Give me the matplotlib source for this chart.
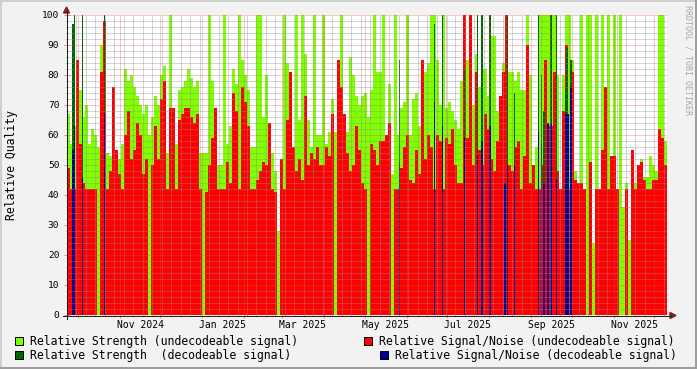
import numpy as np
import pandas as pd
import matplotlib
matplotlib.use('Agg')
import matplotlib.pyplot as plt
import matplotlib.dates as mdates
from matplotlib.lines import Line2D
from matplotlib.patches import Rectangle, Polygon

plt.rcParams['font.family'] = ['DejaVu Sans Mono']

W, H = 697, 369

# undecodeable: one sample every 3192 minutes (~2.2 days), Sep 2024 .. Dec 2025
start = pd.Timestamp('2024-09-23')
end = start + pd.Timedelta(days=443.3)
times = pd.date_range(start, periods=200, freq='3192min')

strength_undec = [
    67, 57, 63, 80, 75, 66, 70, 57, 62, 60, 56, 90, 90, 54, 53, 52, 50, 52, 57, 82,
    78, 80, 76, 73, 70, 67, 70, 60, 66, 73, 70, 80, 83, 54, 100, 59, 57, 75, 76, 78,
    82, 79, 76, 78, 54, 54, 54, 100, 78, 67, 50, 50, 100, 57, 63, 82, 77, 100, 85, 80,
    75, 56, 56, 100, 100, 66, 80, 57, 54, 48, 28, 50, 100, 84, 58, 50, 100, 65, 100, 87,
    65, 56, 100, 60, 60, 100, 57, 61, 72, 61, 78, 100, 60, 61, 86, 80, 73, 70, 73, 74,
    66, 75, 100, 81, 81, 100, 54, 77, 47, 100, 60, 69, 71, 100, 60, 72, 74, 63, 52, 81,
    84, 100, 100, 85, 70, 100, 69, 71, 68, 65, 62, 78, 87, 85, 63, 70, 87, 76, 82, 82,
    73, 93, 93, 68, 65, 84, 100, 81, 81, 78, 81, 75, 75, 100, 80, 49, 56, 100, 100, 100,
    100, 100, 100, 80, 42, 80, 100, 100, 85, 48, 42, 100, 30, 100, 100, 24, 100, 42, 100, 62,
    100, 42, 100, 42, 100, 36, 44, 25, 42, 44, 48, 52, 46, 46, 53, 50, 48, 100, 100, 58,
]
snr_undec = [
    49, 42, 42, 85, 57, 44, 42, 42, 42, 42, 0, 81, 98, 42, 48, 76, 55, 47, 42, 60,
    68, 52, 55, 64, 60, 47, 52, 0, 50, 63, 52, 72, 78, 42, 69, 69, 42, 65, 67, 69,
    69, 66, 64, 67, 42, 0, 41, 50, 59, 69, 42, 42, 42, 51, 44, 74, 68, 42, 76, 71,
    63, 42, 42, 45, 48, 51, 50, 64, 42, 41, 0, 52, 42, 65, 81, 56, 48, 52, 45, 73,
    50, 54, 52, 56, 50, 50, 56, 53, 67, 0, 85, 76, 67, 54, 48, 50, 63, 55, 44, 42,
    0, 57, 55, 50, 58, 58, 60, 64, 0, 42, 42, 49, 56, 60, 45, 44, 55, 47, 85, 52,
    60, 56, 42, 60, 58, 42, 59, 57, 62, 50, 44, 44, 100, 59, 100, 50, 81, 55, 50, 67,
    62, 52, 48, 58, 73, 81, 100, 50, 48, 56, 58, 42, 53, 90, 44, 50, 42, 42, 50, 85,
    63, 63, 81, 48, 42, 68, 90, 42, 81, 45, 44, 44, 42, 0, 51, 0, 42, 42, 55, 76,
    42, 53, 53, 42, 0, 0, 42, 0, 55, 42, 50, 51, 45, 42, 42, 45, 45, 62, 59, 50,
]

# decodeable: single days (days after start)
dec_day = [4, 5, 11, 27, 245, 271, 277, 293, 303, 306, 312, 323, 325, 330,
           348, 350, 352, 355, 357, 361, 368, 369, 370, 372]
strength_dec = [97, 100, 100, 100, 85, 97, 100, 82, 100, 100, 100, 0, 100, 74,
                100, 80, 68, 0, 100, 100, 75, 89, 0, 85]
snr_dec = [55, 63, 46, 67, 51, 71, 63, 59, 53, 58, 63, 44, 50, 50,
           61, 57, 44, 64, 64, 45, 67, 67, 67, 76]

x_labels = ['Nov 2024', 'Jan 2025', 'Mar 2025', 'May 2025', 'Jul 2025', 'Sep 2025', 'Nov 2025']
legend_items = [
    ('Relative Strength (undecodeable signal)', '#80FF00'),
    ('Relative Signal/Noise (undecodeable signal)', '#FF0000'),
    ('Relative Strength  (decodeable signal)', '#006400'),
    ('Relative Signal/Noise (decodeable signal)', '#000094'),
]

GRID = (0.56, 0.56, 0.56, 0.75)
MGRID = (0.87, 0.31, 0.31, 0.6)
ARROW = '#801F1F'
AXIS = '#1F1F1F'


def fx(px):
    return px / W


def fy(py):
    return 1 - py / H


fig = plt.figure(figsize=(W / 100, H / 100), dpi=100, facecolor='#F2F2F2')
ax = fig.add_axes([fx(67), fy(315), 600 / W, 300 / H])
ax.set_facecolor('white')

x0, x1 = mdates.date2num(start), mdates.date2num(end)

# undecodeable areas
x = mdates.date2num(times)
step = 3192 / 1440
xe = np.append(x, x[-1] + step)
for vals, (_, col) in zip([strength_undec, snr_undec], legend_items[:2]):
    v = np.asarray(vals, float)
    ax.fill_between(xe, 0, np.append(v, v[-1]), step='post', color=col, linewidth=0, zorder=2)

# decodeable days on top
xd = x0 + np.asarray(dec_day, float)
ax.bar(xd, strength_dec, width=1, align='edge', color=legend_items[2][1], linewidth=0, zorder=2.1)
ax.bar(xd, snr_dec, width=1, align='edge', color=legend_items[3][1], linewidth=0, zorder=2.2)

ax.set_xlim(x0, x1)
ax.set_ylim(0, 100)

# grid on top, rrdtool style dotted
months = mdates.date2num(pd.date_range(start, end, freq='MS'))
weeks = mdates.date2num(pd.date_range(start, end, freq='W-MON'))
dots = (0, (1, 1))
for w in weeks:
    if w not in months:
        ax.axvline(w, color=GRID, lw=0.72, ls=dots, zorder=3)
for m in months:
    ax.axvline(m, color=MGRID, lw=0.72, ls=dots, zorder=3)
for yv in range(2, 101, 2):
    if yv % 10:
        ax.axhline(yv, color=GRID, lw=0.72, ls=dots, zorder=3)
for yv in range(10, 101, 10):
    ax.axhline(yv, color=MGRID, lw=0.72, ls=dots, zorder=3)

for s in ax.spines.values():
    s.set_visible(False)

ax.set_xticks(months)
ax.set_xticks(weeks, minor=True)
ax.set_xticklabels([])
ax.set_yticks(range(0, 101, 10))
ax.set_yticks(range(0, 101, 2), minor=True)
ax.tick_params(axis='both', which='major', direction='inout', length=4, width=0.72, color=MGRID)
ax.tick_params(axis='both', which='minor', direction='inout', length=2, width=0.72, color=GRID)
ax.tick_params(axis='y', which='major', labelsize=6.8, pad=3.5)

for lab in x_labels:
    t = pd.to_datetime(lab, format='%b %Y') + pd.Timedelta(days=15)
    ax.text(mdates.date2num(t), -10 / 300, lab, ha='center', va='center', fontsize=7,
            transform=ax.get_xaxis_transform())

# axis lines and arrows
fig.add_artist(Line2D([fx(66.5), fx(66.5)], [fy(319), fy(12)], color=AXIS, lw=0.72, transform=fig.transFigure))
fig.add_artist(Line2D([fx(63), fx(671)], [fy(315.5), fy(315.5)], color=AXIS, lw=0.72, transform=fig.transFigure))
fig.add_artist(Polygon([[fx(63.5), fy(13)], [fx(69.5), fy(13)], [fx(66.5), fy(7)]], closed=True,
                       color=ARROW, transform=fig.transFigure))
fig.add_artist(Polygon([[fx(670), fy(312.5)], [fx(670), fy(318.5)], [fx(676), fy(315.5)]], closed=True,
                       color=ARROW, transform=fig.transFigure))

fig.text(fx(12), fy(165), 'Relative Quality', rotation=90, ha='center', va='center', fontsize=8.3)
fig.text(fx(688), fy(5), 'RRDTOOL / TOBI OETIKER', rotation=270, ha='center', va='top',
         fontsize=6, color='#A8A8A8')

# legend
legend_pos = [(15, 341), (364, 341), (15, 355), (380, 355)]
for (lab, col), (lx, ly) in zip(legend_items, legend_pos):
    fig.add_artist(Rectangle((fx(lx), fy(ly + 4)), 8 / W, 8 / H, facecolor=col, edgecolor='black',
                             lw=0.72, transform=fig.transFigure))
    fig.text(fx(lx + 15), fy(ly), lab, ha='left', va='center', fontsize=8.3)

# rrdtool 3d frame
fig.add_artist(Rectangle((0, fy(2)), 1, 2 / H, color='#CFCFCF', transform=fig.transFigure, lw=0))
fig.add_artist(Rectangle((0, 0), 2 / W, 1, color='#CFCFCF', transform=fig.transFigure, lw=0))
fig.add_artist(Rectangle((0, 0), 1, 2 / H, color='#9E9E9E', transform=fig.transFigure, lw=0))
fig.add_artist(Rectangle((fx(695), 0), 2 / W, 1, color='#9E9E9E', transform=fig.transFigure, lw=0))

fig.savefig('out.png', dpi=100, facecolor=fig.get_facecolor())
